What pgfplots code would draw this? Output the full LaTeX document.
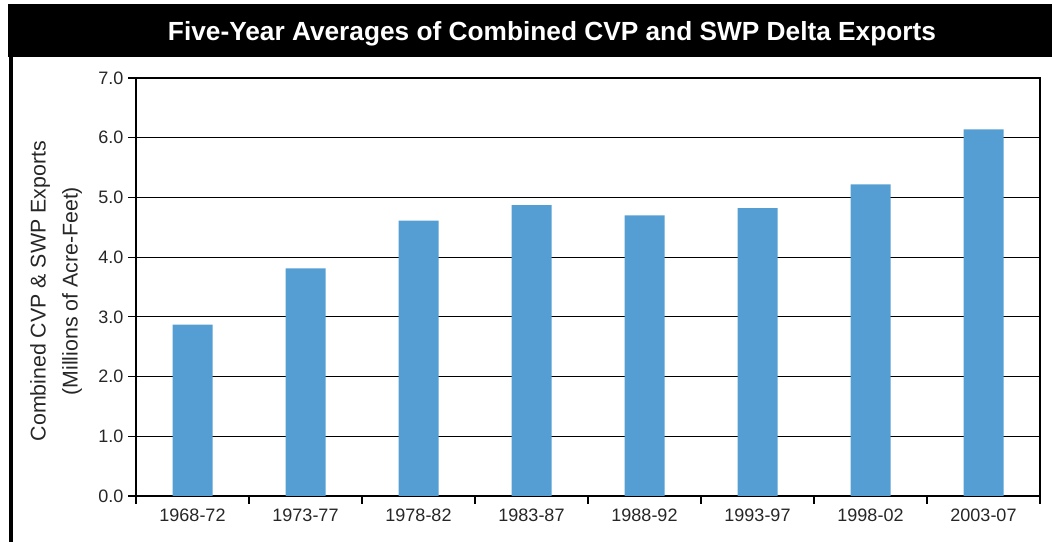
\documentclass[border=0pt]{standalone}
\usepackage{fontspec}
\setmainfont{Liberation Sans}
\usepackage{pgfplots}
\pgfplotsset{compat=1.18}
\definecolor{barblue}{RGB}{84,158,211}
\begin{document}
\begin{tikzpicture}
\useasboundingbox (0,0) rectangle (789pt,406.5pt);
\fill[black] (6pt,363.75pt) rectangle (789pt,403.5pt);
\fill[black] (6.75pt,0pt) rectangle (9.4pt,363.75pt);
\node[anchor=base, text=white, inner sep=0pt, font=\bfseries\fontsize{17}{20}\selectfont] at (414pt,376pt) {\resizebox{576pt}{!}{Five-Year Averages of Combined CVP and SWP Delta Exports}};
\begin{axis}[at={(102pt,34.5pt)}, anchor=south west, scale only axis,
  width=678pt, height=313.5pt,
  xmin=-0.5, xmax=7.5, ymin=0, ymax=7,
  ybar, bar width=30pt,
  xtick={0,...,7},
  xticklabels={1968-72,1973-77,1978-82,1983-87,1988-92,1993-97,1998-02,2003-07},
  minor xtick={-0.5,0.5,...,7.5},
  ytick={0,1,...,7},
  ymajorgrids, major grid style={black, line width=0.8pt},
  tick align=outside, tick pos=left,
  major tick length=6pt, minor tick length=6pt,
  major x tick style={draw=none},
  tick style={black, line width=0.8pt},
  axis line style={black, line width=0.8pt},
  /pgf/number format/assume math mode=true,
  yticklabel style={/pgf/number format/.cd, fixed, fixed zerofill, precision=1},
  tick label style={font=\fontsize{13.5}{15}\selectfont, text=black!85},
  ylabel={Combined CVP \& SWP Exports\\(Millions of Acre-Feet)},
  ylabel style={align=center, font=\fontsize{16}{24}\selectfont, at={(axis description cs:-0.0885,0.49)}, anchor=center, text=black!85},
]
\addplot[fill=barblue, draw=none] coordinates {(0,2.87) (1,3.81) (2,4.61) (3,4.87) (4,4.70) (5,4.82) (6,5.22) (7,6.14)};
\end{axis}
\end{tikzpicture}
\end{document}
